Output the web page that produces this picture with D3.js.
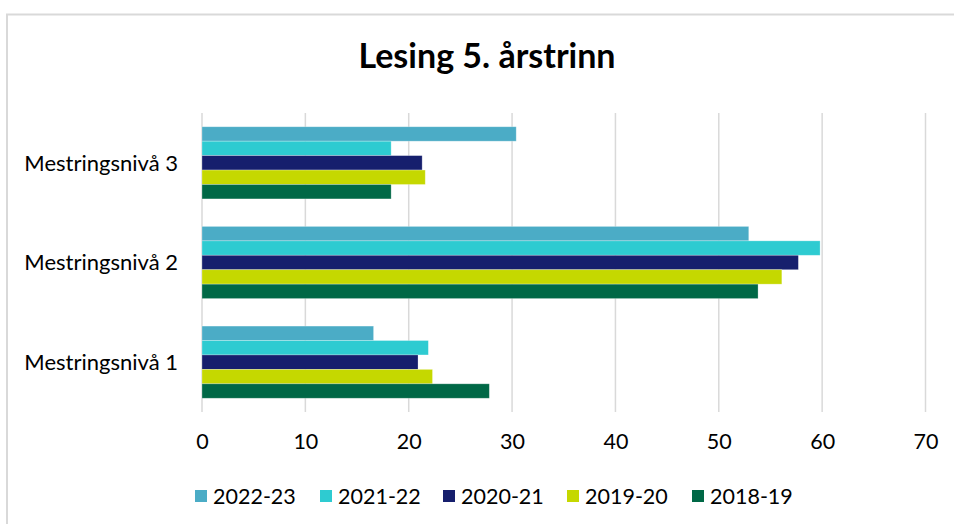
<!DOCTYPE html>
<html>
<head>
<meta charset="utf-8">
<script src="https://cdn.jsdelivr.net/npm/d3@7"></script>
<style>
body { margin: 0; background: #fff; }
svg text { font-family: Lato, "Open Sans", sans-serif; fill: #000; }
</style>
</head>
<body>
<svg id="chart" width="954" height="524"></svg>
<script>
// levels, top to bottom as drawn
var levels = ["Mestringsnivå 3", "Mestringsnivå 2", "Mestringsnivå 1"];
// school years, in the order the bars appear inside a group
var years = ["2022-23", "2021-22", "2020-21", "2019-20", "2018-19"];
var colors = ["#4bacc6", "#2ecbd1", "#161f6d", "#c5d800", "#006846"];

// percent per year, one value per level (3, 2, 1)
var v2022_23 = [30.4, 52.9, 16.6];
var v2021_22 = [18.3, 59.8, 21.9];
var v2020_21 = [21.3, 57.7, 20.9];
var v2019_20 = [21.6, 56.1, 22.3];
var v2018_19 = [18.3, 53.8, 27.8];
var seriesValues = [v2022_23, v2021_22, v2020_21, v2019_20, v2018_19];

var xTicks = [0, 10, 20, 30, 40, 50, 60, 70];

var svg = d3.select("#chart");
var W = 954, H = 524;
var plot = {left: 202, right: 925.5, top: 113, bottom: 412};

// chart frame
svg.append("rect")
    .attr("x", 7).attr("y", 14.5)
    .attr("width", W + 10).attr("height", H + 10)
    .attr("fill", "none")
    .attr("stroke", "#d9d9d9")
    .attr("stroke-width", 2);

svg.append("text")
    .attr("x", 487).attr("y", 68)
    .attr("text-anchor", "middle")
    .style("font-size", "34px")
    .style("font-weight", "bold")
    .text("Lesing 5. årstrinn");

var x = d3.scaleLinear().domain([0, 70]).range([plot.left, plot.right]);
var y = d3.scaleBand().domain(levels).range([plot.top, plot.bottom]).paddingInner(0.276).paddingOuter(0.138);
var yInner = d3.scaleBand().domain(years).range([0, y.bandwidth()]);

// gridlines
svg.append("g")
  .selectAll("line")
  .data(xTicks)
  .join("line")
    .attr("x1", d => x(d)).attr("x2", d => x(d))
    .attr("y1", plot.top).attr("y2", plot.bottom)
    .attr("stroke", "#d9d9d9")
    .attr("stroke-width", 1.5);

// bars
var rows = [];
years.forEach(function(yr, i) {
  levels.forEach(function(lv, j) {
    rows.push({year: yr, level: lv, value: seriesValues[i][j], color: colors[i]});
  });
});

svg.append("g")
  .selectAll("rect")
  .data(rows)
  .join("rect")
    .attr("x", x(0))
    .attr("y", d => y(d.level) + yInner(d.year))
    .attr("width", d => x(d.value) - x(0))
    .attr("height", yInner.bandwidth())
    .attr("fill", d => d.color)
    .attr("stroke", "#ffffff")
    .attr("stroke-opacity", 0.35)
    .attr("stroke-width", 0.75);

// x axis labels
var xAxis = d3.axisBottom(x).tickValues(xTicks).tickSize(0).tickPadding(0);
var gx = svg.append("g")
    .attr("transform", "translate(0," + 449 + ")")
    .call(xAxis);
gx.select(".domain").remove();
gx.selectAll("text")
    .attr("y", 0).attr("dy", 0)
    .style("font-size", "21.5px")
    .style("font-family", "Lato, sans-serif")
    .attr("fill", "#000");

// category labels
var yAxis = d3.axisLeft(y).tickSize(0).tickPadding(0);
var gy = svg.append("g")
    .attr("transform", "translate(" + 178 + ",0)")
    .call(yAxis);
gy.select(".domain").remove();
gy.selectAll("text")
    .attr("x", 0).attr("dy", "0.35em")
    .style("font-size", "22px")
    .style("font-family", "Lato, sans-serif")
    .attr("fill", "#000");

// legend
var legendX = [195, 320, 443, 567, 692];
var lg = svg.append("g")
  .selectAll("g")
  .data(years)
  .join("g")
    .attr("transform", (d, i) => "translate(" + legendX[i] + ",490)");
lg.append("rect")
    .attr("width", 12).attr("height", 12)
    .attr("fill", (d, i) => colors[i]);
lg.append("text")
    .attr("x", 18).attr("y", 6).attr("dy", "0.35em")
    .style("font-size", "21.5px")
    .text(d => d);
</script>
</body>
</html>
